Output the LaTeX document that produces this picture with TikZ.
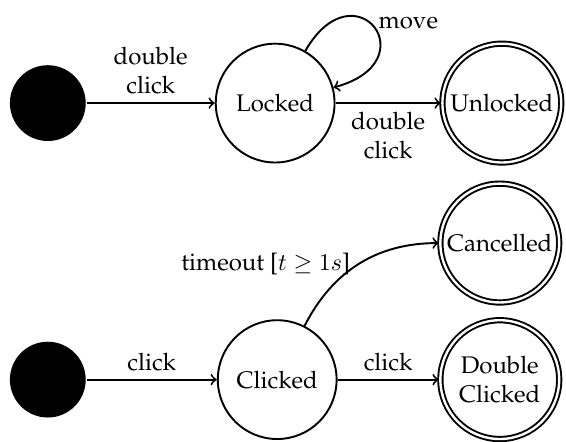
\documentclass[tikz,border=0pt]{standalone}
\usepackage[T1]{fontenc}
\usepackage{palatino}
\usetikzlibrary{automata}

\begin{document}
\begin{tikzpicture}[align=center, thick, >=to,
    statebox/.style={state, minimum size=1.74cm, inner sep=1pt},
    finalbox/.style={statebox, accepting, double distance=1pt},
    startdot/.style={circle, fill=black, minimum size=1.11cm}]
    % Fix the canvas
    \useasboundingbox (0,0) rectangle (8.29,-6.46);

    % Upper machine
    \node[startdot] (start1) at (0.70,-1.51) {};
    \node[statebox] (locked) at (4.03,-1.51) {Locked};
    \node[finalbox] (unlocked) at (7.35,-1.51) {Unlocked};

    % Lower machine
    \node[startdot] (start2) at (0.70,-5.56) {};
    \node[statebox] (clicked) at (4.06,-5.56) {Clicked};
    \node[finalbox] (cancelled) at (7.32,-3.56) {Cancelled};
    \node[finalbox] (dblclicked) at (7.32,-5.56) {Double\\Clicked};

    % Transitions of the upper machine
    \draw[->] (start1) -- (locked) node[midway, above] {double\\click};
    \draw[->] (locked) -- (unlocked) node[midway, below] {double\\click};
    \draw[->] (locked) to[loop, out=60, in=15, looseness=5.5] node[pos=0.45, right] {move} (locked);

    % Transitions of the lower machine
    \draw[->] (start2) -- (clicked) node[midway, above] {click};
    \draw[->] (clicked) -- (dblclicked) node[midway, above] {click};
    \draw[->] (clicked) to[out=63, in=180] node[pos=0.5, left] {timeout [$t \geq 1s$]} (cancelled);
\end{tikzpicture}
\end{document}
